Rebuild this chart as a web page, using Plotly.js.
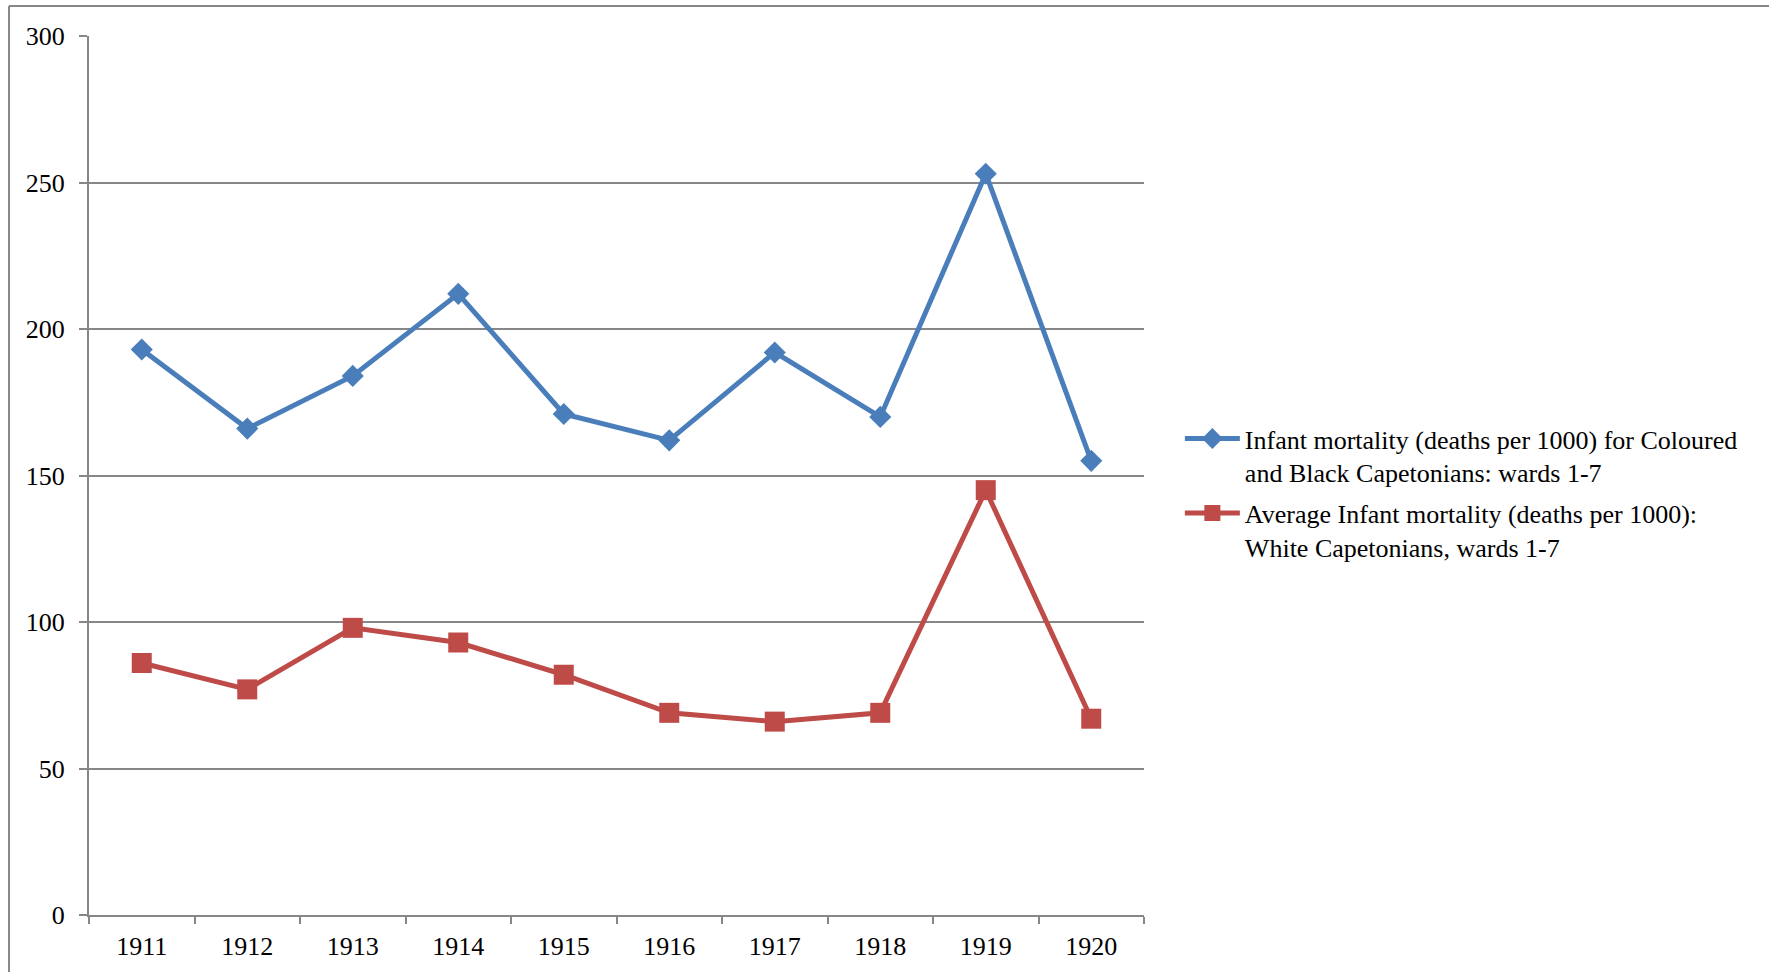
<!DOCTYPE html>
<html>
<head>
<meta charset="utf-8">
<script src="https://cdn.plot.ly/plotly-3.0.1.min.js"></script>
<style>
html, body { margin: 0; padding: 0; background: #ffffff; }
#chart { width: 1769px; height: 972px; }
</style>
</head>
<body>
<div id="chart"></div>
<script>
const years = ["1911", "1912", "1913", "1914", "1915", "1916", "1917", "1918", "1919", "1920"];
const colouredBlack = [193, 166, 184, 212, 171, 162, 192, 170, 253, 155];
const white = [86, 77, 98, 93, 82, 69, 66, 69, 145, 67];
const nameColouredBlack = "Infant mortality (deaths per 1000) for Coloured<br>and Black Capetonians: wards 1-7";
const nameWhite = "Average Infant mortality (deaths per 1000):<br>White Capetonians, wards 1-7";

const gray = "#878787";
const fontFamily = "'Liberation Serif', 'Times New Roman', serif";
const fontSize = 26;

const traces = [
  {
    x: years, y: colouredBlack, name: nameColouredBlack, legendgroup: "g1",
    type: "scatter", mode: "lines+markers",
    line: { color: "#4A7EBB", width: 5 },
    marker: { symbol: "diamond", size: 17, color: "#4A7EBB" }
  },
  {
    x: years, y: white, name: nameWhite, legendgroup: "g2",
    type: "scatter", mode: "lines+markers",
    line: { color: "#BE4B48", width: 5 },
    marker: { symbol: "square", size: 20, color: "#BE4B48" }
  }
];

const layout = {
  width: 1769, height: 972,
  margin: { l: 89, r: 625, t: 36, b: 57 },
  paper_bgcolor: "#ffffff", plot_bgcolor: "#ffffff",
  font: { family: fontFamily, size: fontSize, color: "#000000" },
  showlegend: true,
  legend: {
    x: 1.034, xanchor: "left", y: 0.48, yanchor: "middle",
    font: { family: fontFamily, size: fontSize, color: "#000000" },
    itemwidth: 55, tracegroupgap: 4, valign: "top",
    bgcolor: "rgba(0,0,0,0)"
  },
  xaxis: {
    type: "category", range: [-0.5, 9.5],
    showline: true, linecolor: gray, linewidth: 2,
    ticks: "outside", tickson: "boundaries", ticklen: 7, tickcolor: gray, tickwidth: 2,
    showgrid: false, zeroline: false,
    ticklabelstandoff: 7,
    fixedrange: true
  },
  yaxis: {
    range: [0, 300], dtick: 50, tick0: 0,
    showline: true, linecolor: gray, linewidth: 2,
    ticks: "outside", ticklen: 8, tickcolor: gray, tickwidth: 2,
    showgrid: true, gridcolor: gray, gridwidth: 2,
    zeroline: false,
    ticklabelstandoff: 9,
    fixedrange: true
  },
  shapes: [
    { type: "line", xref: "paper", yref: "paper", x0: -0.0758, x1: -0.0758, y0: 1.034, y1: -0.07, line: { color: gray, width: 2 } },
    { type: "line", xref: "paper", yref: "paper", x0: -0.0758, x1: 1.6, y0: 1.034, y1: 1.034, line: { color: gray, width: 2 } }
  ]
};

Plotly.newPlot("chart", traces, layout, { displayModeBar: false, staticPlot: true });
</script>
</body>
</html>
